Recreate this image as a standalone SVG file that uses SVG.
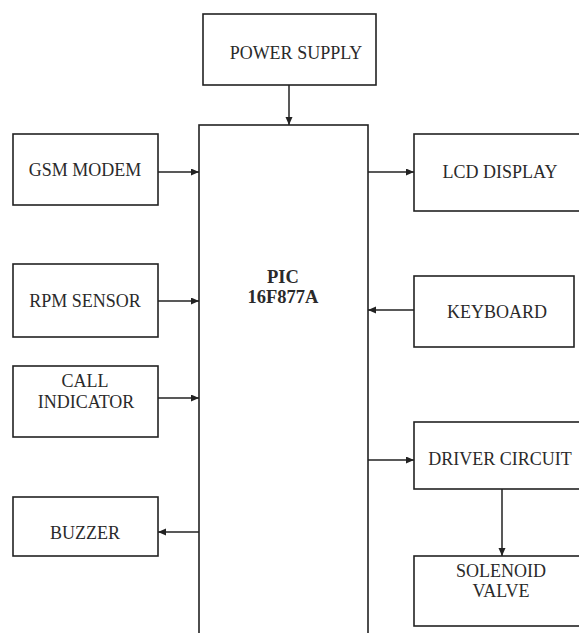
<svg xmlns="http://www.w3.org/2000/svg" width="579" height="633" viewBox="0 0 579 633">
<style>
.box{fill:#fff;stroke:#222;stroke-width:1.6}
.t{font-family:"Liberation Serif","Times New Roman",serif;font-size:18px;fill:#2a2a2a;text-anchor:middle}
.b{font-weight:bold;font-size:18.5px}
.c{stroke:#222;stroke-width:1.5;fill:none;marker-end:url(#ah)}
</style>
<defs>
<marker id="ah" markerUnits="userSpaceOnUse" markerWidth="9" markerHeight="8" refX="8" refY="3.5" orient="auto">
<path d="M0,0 L8,3.5 L0,7 z" fill="#222"/>
</marker>
</defs>
<rect width="579" height="633" fill="#fff"/>
<g id="power"><rect class="box" x="203" y="14" width="173" height="71"/><text class="t" x="296" y="59">POWER SUPPLY</text></g>
<g id="pic"><rect class="box" x="199" y="125" width="169" height="530"/><text class="t b" x="283" y="283">PIC</text><text class="t b" x="283" y="303">16F877A</text></g>
<g id="gsm"><rect class="box" x="13" y="134" width="145" height="71"/><text class="t" x="85" y="176">GSM MODEM</text></g>
<g id="lcd"><rect class="box" x="414" y="134" width="180" height="77"/><text class="t" x="500" y="178">LCD DISPLAY</text></g>
<g id="rpm"><rect class="box" x="13" y="264" width="145" height="73"/><text class="t" x="85" y="307">RPM SENSOR</text></g>
<g id="keyboard"><rect class="box" x="414" y="276" width="160" height="71"/><text class="t" x="497" y="318">KEYBOARD</text></g>
<g id="call"><rect class="box" x="13" y="366" width="145" height="71"/><text class="t" x="85" y="387">CALL</text><text class="t" x="86" y="408">INDICATOR</text></g>
<g id="buzzer"><rect class="box" x="13" y="497" width="145" height="59"/><text class="t" x="85" y="539">BUZZER</text></g>
<g id="driver"><rect class="box" x="414" y="422" width="180" height="67"/><text class="t" x="500" y="465">DRIVER CIRCUIT</text></g>
<g id="solenoid"><rect class="box" x="414" y="556" width="180" height="70"/><text class="t" x="501" y="577">SOLENOID</text><text class="t" x="501" y="597">VALVE</text></g>
<g id="connectors">
<line class="c" x1="289" y1="85" x2="289" y2="125"/>
<line class="c" x1="158" y1="172" x2="199" y2="172"/>
<line class="c" x1="368" y1="172" x2="414" y2="172"/>
<line class="c" x1="158" y1="301" x2="199" y2="301"/>
<line class="c" x1="414" y1="310" x2="368" y2="310"/>
<line class="c" x1="158" y1="398" x2="199" y2="398"/>
<line class="c" x1="199" y1="532" x2="158" y2="532"/>
<line class="c" x1="368" y1="460" x2="414" y2="460"/>
<line class="c" x1="502" y1="489" x2="502" y2="556"/>
</g>
</svg>
